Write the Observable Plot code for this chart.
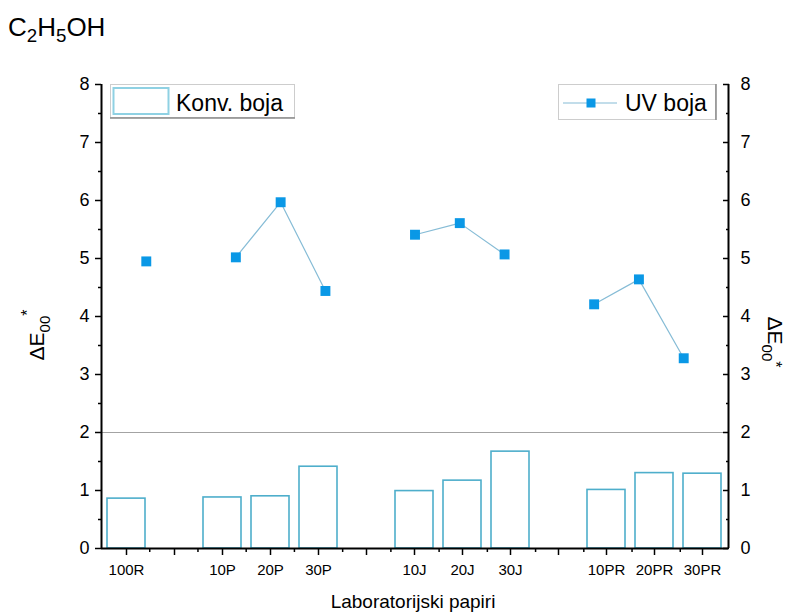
<!DOCTYPE html>
<html><head><meta charset="utf-8">
<script src="https://cdn.jsdelivr.net/npm/d3@7"></script>
<script src="https://cdn.jsdelivr.net/npm/@observablehq/plot@0.6"></script>
<style>
body{margin:0;background:#fff;}
#wrap{position:relative;width:788px;height:614px;font-family:"Liberation Sans",Arial,sans-serif;overflow:hidden;}
#wrap svg{position:absolute;left:0;top:0;}
#title{position:absolute;left:8px;top:14px;font-size:26px;line-height:26px;color:#000;white-space:nowrap;}
#title sub{font-size:72%;vertical-align:-0.32em;line-height:0;}
</style></head><body>
<div id="wrap"><div id="title">C<sub>2</sub>H<sub>5</sub>OH</div></div>
<script>
// ---- data ----
const categories = ["100R","","10P","20P","30P","","10J","20J","30J","","10PR","20PR","30PR"];
const groups     = ["R","","P","P","P","","J","J","J","","PR","PR","PR"];
const konvBoja   = [0.86,null,0.88,0.90,1.41,null,0.99,1.17,1.67,null,1.01,1.30,1.29];
const uvBoja     = [4.95,null,5.02,5.97,4.44,null,5.41,5.61,5.07,null,4.21,4.64,3.28];
const yTicks     = [0,1,2,3,4,5,6,7,8];
const yMinorTicks = [0.5,1.5,2.5,3.5,4.5,5.5,6.5,7.5];
const xMinorTicks = [0.5,1.5,2.5,3.5,4.5,5.5,6.5,7.5,8.5,9.5,10.5,11.5];
const refLine    = [2];
const xTitle = "Laboratorijski papiri";
const legendKonv = "Konv. boja";
const legendUV = "UV boja";

const rows = categories.map((c, i) => ({i, cat: c, group: groups[i], konv: konvBoja[i], uv: uvBoja[i]}));
const barRows = rows.filter(d => d.konv != null);
const uvRows = rows.filter(d => d.uv != null);

const barStroke = "#4eaecb", dotFill = "#0a98e6", lineStroke = "#86bcd6";
const font = "Liberation Sans, Arial, sans-serif";
const common = {
  width: 788, height: 614,
  marginLeft: 101, marginRight: 60, marginTop: 84, marginBottom: 66,
  style: {background: "transparent", fontFamily: font, overflow: "visible", color: "black"}
};
const yScale = {domain: [0, 8], label: null};

// Layer A: bars on a band scale, bottom + left axes
const layerA = Plot.plot({
  ...common,
  x: {type: "band", domain: d3.range(categories.length), paddingInner: 0.2, paddingOuter: 0.1, label: null},
  y: yScale,
  marks: [
    Plot.ruleY(refLine, {stroke: "#a3a3a3", strokeWidth: 1.2}),
    Plot.barY(barRows, {x: "i", y: "konv", fill: "white", stroke: barStroke, strokeWidth: 1.6}),
    Plot.axisX({tickSize: 7, tickPadding: 9, fontSize: 15, tickFormat: i => categories[i], strokeWidth: 1.5, label: null}),
    Plot.axisY({anchor: "left", ticks: yTicks, tickSize: 6, tickPadding: 6, fontSize: 18, strokeWidth: 1.5, label: null}),
    Plot.axisY({anchor: "left", ticks: yMinorTicks, tickSize: 3, tickFormat: () => "", strokeWidth: 1.5, label: null}),
    Plot.ruleY([0], {stroke: "black", strokeWidth: 2})
  ]
});

// Layer B: minor x ticks between categories
const layerB = Plot.plot({
  ...common,
  x: {domain: [-0.5, categories.length - 0.5], label: null},
  y: {...yScale, axis: null},
  marks: [
    Plot.axisX({ticks: xMinorTicks, tickSize: 4, tickFormat: () => "", strokeWidth: 1.5, label: null})
  ]
});

// Layer C: UV series on its own x layer, right axis
const layerC = Plot.plot({
  ...common,
  x: {domain: [-1, categories.length], label: null, axis: null},
  y: yScale,
  marks: [
    Plot.line(uvRows, {x: "i", y: "uv", z: "group", stroke: lineStroke, strokeWidth: 1.2}),
    Plot.dot(uvRows, {x: "i", y: "uv", symbol: "square", r: 5.6, fill: dotFill, stroke: "none"}),
    Plot.ruleX([-1, categories.length], {stroke: "black", strokeWidth: 2}),
    Plot.axisY({anchor: "right", ticks: yTicks, tickSize: 6, dx: -6, tickPadding: 12, fontSize: 18, strokeWidth: 1.5, label: null}),
    Plot.axisY({anchor: "right", ticks: yMinorTicks, tickSize: 3, dx: -3, tickFormat: () => "", strokeWidth: 1.5, label: null})
  ]
});

const wrap = document.getElementById("wrap");
wrap.appendChild(layerA);
wrap.appendChild(layerB);
wrap.appendChild(layerC);

// Titles and legends
const svg = d3.select(layerC);
const g = svg.append("g").attr("font-family", font).attr("fill", "black").attr("text-anchor", "start");

g.append("text").attr("x", 413).attr("y", 608).attr("text-anchor", "middle")
  .attr("font-size", 19).text(xTitle);

function yTitle(x, y, rot, starDy) {
  const t = g.append("text").attr("transform", `translate(${x},${y}) rotate(${rot})`)
    .attr("text-anchor", "middle").attr("font-size", 21);
  t.append("tspan").text("\u0394E");
  t.append("tspan").attr("font-size", 15).attr("dy", 6).text("00");
  t.append("tspan").attr("font-size", 16).attr("dy", starDy).text("*");
}
yTitle(44, 335, -90, -17);
yTitle(768, 342, 90, -8);

// Legend: Konv. boja
const lk = g.append("g");
lk.append("rect").attr("x", 110.5).attr("y", 84.5).attr("width", 184).attr("height", 33)
  .attr("fill", "white").attr("stroke", "#cdcdcd");
lk.append("line").attr("x1", 110).attr("x2", 295).attr("y1", 118).attr("y2", 118).attr("stroke", "#8a8a8a").attr("stroke-width", 1.5);
lk.append("rect").attr("x", 113.5).attr("y", 88).attr("width", 55).attr("height", 26)
  .attr("fill", "white").attr("stroke", "#8fd1e3").attr("stroke-width", 2);
lk.append("text").attr("x", 176).attr("y", 111).attr("font-size", 23).text(legendKonv);

// Legend: UV boja
const lu = g.append("g");
lu.append("rect").attr("x", 558.5).attr("y", 84.5).attr("width", 157).attr("height", 35)
  .attr("fill", "white").attr("stroke", "#cdcdcd");
lu.append("line").attr("x1", 716).attr("x2", 716).attr("y1", 84).attr("y2", 120).attr("stroke", "#8a8a8a").attr("stroke-width", 1.5);
lu.append("line").attr("x1", 563).attr("x2", 617).attr("y1", 103).attr("y2", 103).attr("stroke", lineStroke).attr("stroke-width", 1.2);
lu.append("rect").attr("x", 586.5).attr("y", 98.5).attr("width", 9).attr("height", 9).attr("fill", dotFill);
lu.append("text").attr("x", 625).attr("y", 111).attr("font-size", 23).text(legendUV);
</script>
</body></html>
